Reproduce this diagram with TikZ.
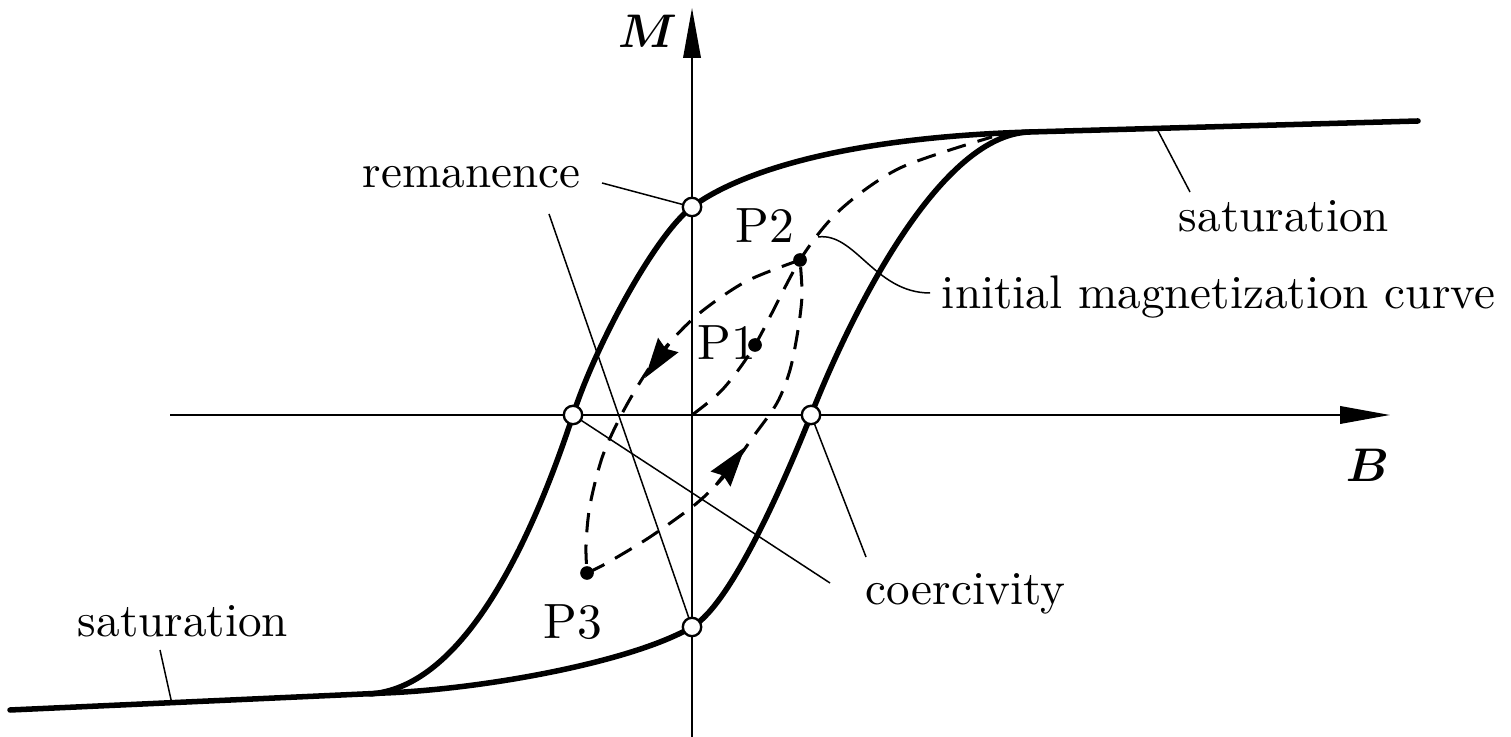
\documentclass[tikz,border=0pt]{standalone}
\usepackage{fontspec}
\usepackage{bm}
\usetikzlibrary{arrows.meta}
\begin{document}
\begin{tikzpicture}[x=0.212pt,y=-0.212pt,
  loopline/.style={line width=1.17pt, line join=round, line cap=round},
  dashcurve/.style={line width=0.64pt, dash pattern=on 4.1pt off 2.6pt},
  axisline/.style={line width=0.45pt, -{Triangle[length=10.6pt,width=3.7pt]}},
  leader/.style={line width=0.32pt},
  minorarrow/.style={line width=0.64pt, -{Stealth[length=8.5pt,width=5.2pt,inset=0.9pt]}},
  hollow/.style={circle, draw, fill=white, line width=0.5pt, minimum size=3.9pt, inner sep=0pt},
  dot/.style={circle, fill, minimum size=2.9pt, inner sep=0pt},
  lbl/.style={font=\fontsize{10}{12}\selectfont, inner sep=0pt, anchor=base west},
  plbl/.style={font=\fontsize{10.5}{12.5}\selectfont, inner sep=0pt, anchor=base west},
]
\useasboundingbox (0,0) rectangle (1511,737);
% axes
\coordinate (yb) at (692,737);
\coordinate (yt) at (692,8);
\coordinate (xl) at (170,415);
\coordinate (xr) at (1390,415);
\draw[axisline] (yb) -- (yt);
\draw[axisline] (xl) -- (xr);
% main loop: tail, lower branch, top saturation
\draw[loopline] (10,710) -- (385,693)
  .. controls (485,689) and (632,662) .. (692,627)
  .. controls (731,604) and (783,485) .. (811,415)
  .. controls (844,331) and (935,134) .. (1030,132)
  -- (1418,121);
% upper branch
\draw[loopline] (370,694)
  .. controls (455,688) and (523,567) .. (573,415)
  .. controls (596,344) and (656,234) .. (692,207)
  .. controls (732,177) and (830,138) .. (1030,132);
% initial magnetization curve
\draw[dashcurve] plot[smooth] coordinates {(692,415) (723,389) (755,345) (800,260) (840,210) (900,168) (992,137)};
% minor loop
\draw[dashcurve] plot[smooth] coordinates {(800,260) (745,282) (695,317) (655,360) (625,408) (603,455) (590,505) (586,545) (587,573)};
\draw[dashcurve] plot[smooth] coordinates {(587,573) (607,563) (650,537) (697,503) (727,473) (753,437) (777,403) (790,370) (798,330) (802,295) (800,260)};
\coordinate (ua1) at (669,344);
\coordinate (ua2) at (645,378);
\coordinate (la1) at (716,485);
\coordinate (la2) at (745,447);
\draw[minorarrow] (ua1) -- (ua2);
\draw[minorarrow] (la1) -- (la2);
% labels
\node[lbl] (trem) at (362,188) {remanence};
\node[lbl] (tcoe) at (865,605) {coercivity};
\node[lbl] (tsatl) at (77,637) {saturation};
\node[lbl] (tsatr) at (1178,232) {saturation};
\node[lbl] (tinit) at (941,309) {initial magnetization curve};
\node[plbl] (tp1) at (697,360) {P1};
\node[plbl] (tp2) at (735,243) {P2};
\node[plbl] (tp3) at (543,639) {P3};
\node[lbl] (tM) at (617,48) {$\bm{M}$};
\node[lbl] (tB) at (1345,482) {$\bm{B}$};
% marker positions
\coordinate (rtopc) at (692,207);
\coordinate (rbotc) at (692,627);
\coordinate (cleftc) at (573,415);
\coordinate (crightc) at (811,415);
% leaders
\coordinate (remA) at (602,183);
\coordinate (remB) at (549,214);
\coordinate (coeA) at (830,583);
\coordinate (coeB) at (866,557);
\coordinate (satrA) at (1157,129);
\coordinate (satrB) at (1190,192);
\coordinate (satlA) at (160,650);
\coordinate (satlB) at (172,704);
\coordinate (iniA) at (818,237);
\coordinate (iniB) at (930,293);
\draw[leader] (remA) -- (rtopc);
\draw[leader] (remB) -- (rbotc);
\draw[leader] (cleftc) -- (coeA);
\draw[leader] (crightc) -- (coeB);
\draw[leader] (satrA) -- (satrB);
\draw[leader] (satlA) -- (satlB);
\draw[leader] (iniA) .. controls (855,232) and (875,293) .. (iniB);
% markers above everything
\node[hollow] (rtop) at (rtopc) {};
\node[hollow] (rbot) at (rbotc) {};
\node[hollow] (cleft) at (cleftc) {};
\node[hollow] (cright) at (crightc) {};
\node[dot] (p1) at (755,345) {};
\node[dot] (p2) at (800,260) {};
\node[dot] (p3) at (587,573) {};
\end{tikzpicture}
\end{document}
